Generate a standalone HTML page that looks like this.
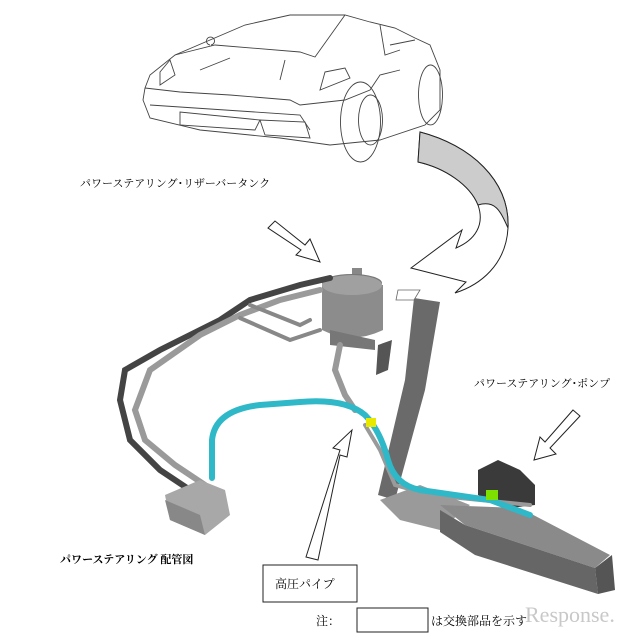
<!DOCTYPE html>
<html><head><meta charset="utf-8"><style>
body{margin:0;background:#fff;}
svg{display:block;}
text{font-family:"Liberation Serif","Noto Serif CJK SC","Noto Sans CJK JP",serif;}
</style></head><body>
<svg width="643" height="636" viewBox="0 0 643 636" xmlns="http://www.w3.org/2000/svg">
<rect width="643" height="636" fill="#fff"/>
<!-- car -->
<g fill="none" stroke="#444" stroke-width="0.9">
<path d="M145 88 L150 75 L175 55 L245 25 L290 15 L345 15 L370 22 L395 28 L415 38 L430 45 L440 70 L440 110 L425 125 L380 140 L330 145 L280 138 L200 130 L150 118 L143 100 Z"/>
<path d="M175 55 L215 45 L300 52 L315 57 L345 15"/>
<path d="M145 88 L180 92 L230 95 L290 100 L300 105 L345 100 L370 90 L380 75 L400 70"/>
<path d="M150 105 L300 115 L310 130"/>
<path d="M180 112 L180 125 L255 130 L260 120 Z"/>
<path d="M260 120 L265 135 L310 138 L305 122 Z"/>
<path d="M360 82 A20 40 0 1 0 361 82 Z"/>
<path d="M370 95 A12 25 0 1 0 371 95 Z"/>
<path d="M430 65 A12 30 0 1 0 431 65 Z"/>
<path d="M160 72 L170 60 L175 75 L160 85 Z"/>
<path d="M325 72 L345 68 L350 78 L320 90 Z"/>
<path d="M210 45 A4 4 0 1 1 211 45"/>
<path d="M200 70 L230 58 M280 80 L285 60"/>
<path d="M380 25 L385 55 L400 50 M390 45 L415 40"/>
</g>
<!-- curved arrow -->
<path d="M420 132 C470 145 510 180 508 228 C506 265 480 285 455 293 L466 282 L411 268 L462 230 L456 248 C475 240 485 225 478 205 C470 185 445 168 418 162 Z" fill="#fff" stroke="#222" stroke-width="1"/>
<path d="M420 132 C470 145 510 180 508 228 C500 210 495 200 478 205 C470 185 445 168 418 162 Z" fill="#ccc" stroke="#222" stroke-width="1"/>
<text x="80" y="187" font-size="11">パワーステアリング･リザーバータンク</text>
<!-- arrow to tank -->
<path d="M268 228 L275 221 L305 245 L310 239 L320 262 L296 255 L301 250 Z" fill="#fff" stroke="#222"/>
<!-- vertical post -->
<path d="M414 298 L440 302 L425 390 L395 500 L378 495 L405 380 Z" fill="#6a6a6a"/>
<path d="M398 290 L420 290 L414 300 L396 300 Z" fill="#fff" stroke="#666" stroke-width="0.8"/>
<path d="M378 345 L392 340 L388 370 L376 375 Z" fill="#555"/>
<!-- bottom beam -->
<path d="M380 500 L420 485 L470 505 L440 530 L400 520 Z" fill="#9a9a9a"/>
<path d="M440 505 L520 508 L610 555 L595 568 L465 525 Z" fill="#8a8a8a"/>
<path d="M440 510 L465 525 L595 568 L598 594 L475 555 L440 532 Z" fill="#666"/>
<path d="M595 568 L612 555 L615 590 L598 594 Z" fill="#555"/>
<!-- pump -->
<path d="M478 470 L498 460 L520 470 L535 485 L535 505 L510 508 L478 495 Z" fill="#3a3a3a"/>
<!-- tank -->
<rect x="352" y="268" width="10" height="10" fill="#888"/>
<ellipse cx="352" cy="283" rx="30" ry="9" fill="#777"/>
<path d="M322 285 L322 330 Q352 345 383 330 L383 285 Z" fill="#8c8c8c"/>
<ellipse cx="352" cy="285" rx="30" ry="10" fill="#a0a0a0"/>
<path d="M330 330 L375 340 L375 350 L330 345 Z" fill="#777"/>
<!-- grey/black pipes -->
<g fill="none" stroke-linecap="round">
<path d="M330 278 L300 285 L250 300 L220 320 L160 350 L125 370 L120 400 L130 440 L160 470 L190 490" stroke="#444" stroke-width="6"/>
<path d="M320 290 L280 300 L240 315 L200 335 L150 370 L135 410 L145 440 L175 465 L205 485" stroke="#9a9a9a" stroke-width="6"/>
<path d="M250 305 L300 325 L310 320 M240 318 L290 340 L320 330" stroke="#888" stroke-width="4"/>
<path d="M340 345 L335 370 L345 395 L355 410" stroke="#999" stroke-width="6"/>
<path d="M365 425 L380 450 L395 485 L430 495 L480 500 L530 505" stroke="#9a9a9a" stroke-width="4"/>
<!-- teal -->
<path d="M212 478 L212 440 Q215 410 260 405 L300 402 Q345 398 365 415 Q380 430 388 460 Q395 485 420 490 L490 500 L530 515" stroke="#2fb8c8" stroke-width="6"/>
</g>
<rect x="366" y="418" width="10" height="9" fill="#e8e800"/>
<rect x="486" y="490" width="12" height="10" fill="#7de000"/>
<!-- valve block -->
<path d="M165 495 L200 480 L225 490 L230 515 L205 535 L170 520 Z" fill="#a8a8a8"/>
<path d="M165 500 L200 515 L205 535 L170 520 Z" fill="#888"/>
<!-- pump label and arrow -->
<text x="474" y="387" font-size="11">パワーステアリング･ポンプ</text>
<path d="M573 410 L580 416 L550 448 L556 454 L534 460 L540 437 L545 442 Z" fill="#fff" stroke="#222"/>
<!-- high pressure arrow -->
<path d="M306 557 L318 560 L340 455 L347 457 L352 430 L333 448 L340 450 Z" fill="#fff" stroke="#222"/>
<rect x="263" y="565" width="94" height="37" fill="#fff" stroke="#222"/>
<text x="275" y="588" font-size="12">高圧パイプ</text>
<text x="60" y="563" font-size="11" font-weight="bold" font-family="Liberation Sans,Noto Sans CJK JP,sans-serif">パワーステアリング  配管図</text>
<text x="316" y="625" font-size="12">注：</text>
<rect x="357" y="608" width="71" height="24" fill="#fff" stroke="#222"/>
<text x="431" y="625" font-size="12">は交換部品を示す</text>
<text x="525" y="622" font-size="22" fill="#c8c8c8" font-family="Liberation Sans,sans-serif">Response.</text>
</svg>
</body></html>
